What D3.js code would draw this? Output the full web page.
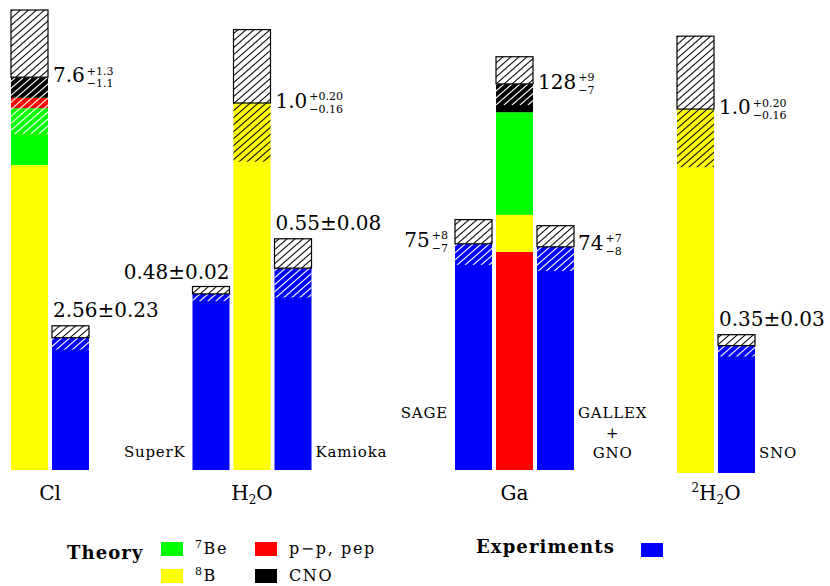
<!DOCTYPE html>
<html>
<head>
<meta charset="utf-8">
<script src="https://cdn.jsdelivr.net/npm/d3@7"></script>
<style>
  body { margin: 0; background: #fff; }
  svg text { font-family: "DejaVu Serif", serif; fill: #000; }
  .val { font-size: 20px; }
  .script { font-size: 11px; }
  .name { font-size: 15px; letter-spacing: 0.8px; }
  .glabel { font-size: 20px; }
  .ltitle { font-size: 18px; font-weight: bold; letter-spacing: 1.1px; }
  .litem { font-size: 16px; letter-spacing: 1.6px; }
</style>
</head>
<body>
<svg id="chart" width="830" height="586"></svg>
<script>
// Detector targets ("^" = superscript, "_" = subscript for the next character)
const groups = ["Cl", "H_2O", "Ga", "^2H_2O"];

// Standard solar model prediction, split by neutrino source
// (SNU for Cl and Ga, ratio to the model for the water detectors)
const theoryPP  = [0.2, 0,   72.3, 0];
const theoryB8  = [5.9, 1.0, 12.3, 1.0];
const theoryBe7 = [1.1, 0,   34.0, 0];
const theoryCNO = [0.4, 0,    9.4, 0];
const theoryTotal   = [7.6, 1.0, 128, 1.0];
const theoryErrUp   = [1.3, 0.20, 9, 0.20];
const theoryErrDown = [1.1, 0.16, 7, 0.16];
const theoryDigits    = [1, 1, 0, 1];
const theoryErrDigits = [1, 2, 0, 2];

// Order in which the sources are stacked, bottom to top
const stackOrder = [
  ["B8", "Be7", "PP", "CNO"],
  ["B8"],
  ["PP", "B8", "Be7", "CNO"],
  ["B8"]
];

// Measurements
const expGroup   = [0, 1, 1, 2, 2, 3];
const expName    = [[], ["SuperK"], ["Kamioka"], ["SAGE"], ["GALLEX", "+", "GNO"], ["SNO"]];
const expValue   = [2.56, 0.48, 0.55, 75, 74, 0.35];
const expErrUp   = [0.23, 0.02, 0.08, 8, 7, 0.03];
const expErrDown = [0.23, 0.02, 0.08, 7, 8, 0.03];
const expDigits  = [2, 2, 2, 0, 0, 2];
const expSide    = [1, -1, 1, -1, 1, 1];   // column relative to the model bar

// Legend entries
const componentKeys   = ["Be7", "B8", "PP", "CNO"];
const componentLabels = ["^7Be", "^8B", "p\u2212p, pep", "CNO"];
const componentColors = ["#00ff00", "#ffff00", "#ff0000", "#000000"];
const expLegendLabel  = "Experiments";
const expColor        = "#0000ff";

// ---------------------------------------------------------------
const svg = d3.select("#chart");

const comp = {
  PP: theoryPP, B8: theoryB8, Be7: theoryBe7, CNO: theoryCNO
};
const colorOf = d3.scaleOrdinal().domain(componentKeys).range(componentColors);

// layout
const barW = 37;
const groupCenter = d3.scaleOrdinal().domain(groups).range([50, 252, 514.5, 716]);
const slotX = d3.scaleLinear().domain([0, 1]).range([0, 41]);
const groupBase = [470, 470, 470, 473];
const groupTopValue = [8.9, 1.2534, 152.5, 1.272];
const yScale = groups.map((g, i) =>
  d3.scaleLinear().domain([0, groupTopValue[i]]).range([groupBase[i], 10]));

// column slots of each group (model bar at 0)
function slotsOf(gi) {
  const s = [0];
  expGroup.forEach((g, j) => { if (g === gi) s.push(expSide[j]); });
  return s;
}
function barLeft(gi, slot) {
  const s = slotsOf(gi);
  const mid = (d3.min(s) + d3.max(s)) / 2;
  return groupCenter(groups[gi]) + slotX(slot - mid) - barW / 2;
}

// hatch patterns
const defs = svg.append("defs");
function hatch(id, color) {
  const w = 8, h = 7;
  const p = defs.append("pattern").attr("id", id)
    .attr("patternUnits", "userSpaceOnUse").attr("width", w).attr("height", h);
  p.append("path")
    .attr("d", `M0,${h} L${w},0 M-1,1 L1,-1 M${w - 1},${h + 1} L${w + 1},${h - 1}`)
    .attr("stroke", color).attr("stroke-width", 1.1).attr("fill", "none");
}
hatch("hatchDark", "#111");
hatch("hatchLight", "#fff");

const plot = svg.append("g");

function band(x, y, lo, hi, fill) {
  return plot.append("rect")
    .attr("x", x).attr("width", barW)
    .attr("y", y(hi)).attr("height", y(lo) - y(hi))
    .attr("fill", fill);
}
function upperBox(x, y, lo, hi) {
  band(x, y, lo, hi, "#fff");
  band(x, y, lo, hi, "url(#hatchDark)")
    .attr("stroke", "#000").attr("stroke-width", 1.2);
}

// rich text helper: "^" superscript, "_" subscript
function richText(textSel, str, smallSize, up, down) {
  let i = 0;
  let shift = 0;
  while (i < str.length) {
    const c = str[i];
    if ((c === "^" || c === "_") && i + 1 < str.length) {
      const target = c === "^" ? -up : down;
      textSel.append("tspan").attr("font-size", smallSize)
        .attr("dy", target - shift).text(str[i + 1]);
      shift = target;
      i += 2;
    } else {
      let j = i;
      while (j < str.length && str[j] !== "^" && str[j] !== "_") j++;
      textSel.append("tspan").attr("dy", -shift).text(str.slice(i, j));
      shift = 0;
      i = j;
    }
  }
}

// value label with either "±" or stacked +/− errors
function valueLabel(x, y, anchor, main, sup, sub) {
  const g = plot.append("g");
  const t = g.append("text").attr("class", "val").attr("x", 0).attr("y", 0).text(main);
  const w = t.node().getComputedTextLength();
  let total = w;
  if (sup !== null) {
    const a = g.append("text").attr("class", "script").attr("x", w + 2).attr("y", -7.5).text(sup);
    const b = g.append("text").attr("class", "script").attr("x", w + 2).attr("y", 5).text(sub);
    total = w + 2 + Math.max(a.node().getComputedTextLength(), b.node().getComputedTextLength());
  }
  const dx = anchor === "end" ? x - total : x;
  g.attr("transform", `translate(${dx},${y})`);
}
function fmtLabel(v, eu, ed, d, de) {
  const f = d3.format(`.${d}f`), fe = d3.format(`.${de}f`);
  if (eu === ed) return [f(v) + "\u00b1" + fe(eu), null, null];
  return [f(v), "+" + fe(eu), "\u2212" + fe(ed)];
}

// model bars
groups.forEach((gname, gi) => {
  const y = yScale[gi];
  const x = barLeft(gi, 0);
  const total = theoryTotal[gi];
  const lo = total - theoryErrDown[gi];
  let acc = 0;
  const segs = stackOrder[gi].map(k => {
    const s = { key: k, a: acc, b: acc + comp[k][gi] };
    acc = s.b;
    return s;
  });
  segs.forEach(s => band(x, y, s.a, s.b, colorOf(s.key)));
  // lower uncertainty drawn over the stacked sources
  segs.forEach(s => {
    const a = Math.max(s.a, lo), b = Math.min(s.b, total);
    if (b > a) band(x, y, a, b, s.key === "B8" ? "url(#hatchDark)" : "url(#hatchLight)");
  });
  upperBox(x, y, total, total + theoryErrUp[gi]);

  const [m, su, sb] = fmtLabel(total, theoryErrUp[gi], theoryErrDown[gi],
                               theoryDigits[gi], theoryErrDigits[gi]);
  valueLabel(x + barW + 5, y(total) + 5, "start", m, su, sb);

  // group name
  const gl = plot.append("text").attr("class", "glabel")
    .attr("x", groupCenter(gname)).attr("y", 500).attr("text-anchor", "middle");
  richText(gl, gname, 12, 8, 4);
});

// measured bars
const expLabelPlace = ["above-start", "above-end", "above-start", "left", "right", "above-start"];
const nameBaseline  = [457, 457, 457, 418, 418, 458];
expValue.forEach((v, j) => {
  const gi = expGroup[j];
  const y = yScale[gi];
  const x = barLeft(gi, expSide[j]);
  band(x, y, 0, v, expColor);
  band(x, y, v - expErrDown[j], v, "url(#hatchLight)");
  upperBox(x, y, v, v + expErrUp[j]);

  const [m, su, sb] = fmtLabel(v, expErrUp[j], expErrDown[j], expDigits[j], expDigits[j]);
  const top = y(v + expErrUp[j]);
  const place = expLabelPlace[j];
  if (place === "above-start") valueLabel(x + 1, top - 9, "start", m, su, sb);
  else if (place === "above-end") valueLabel(x + barW, top - 7, "end", m, su, sb);
  else if (place === "left") valueLabel(x - 7, y(v) + 3, "end", m, su, sb);
  else valueLabel(x + barW + 4, y(v) + 3, "start", m, su, sb);

  // detector name
  const lines = expName[j];
  if (lines.length) {
    const t = plot.append("text").attr("class", "name").attr("text-anchor", "middle");
    lines.forEach((ln, k) => t.append("tspan").attr("x", 0).attr("y", k * 20).text(ln));
    const w = t.node().getBBox().width;
    const cx = expSide[j] < 0 ? x - 7 - w / 2 : x + barW + 4 + w / 2;
    t.attr("transform", `translate(${cx},${nameBaseline[j]})`);
  }
});

// legend
const leg = svg.append("g");
leg.append("text").attr("class", "ltitle").attr("x", 67).attr("y", 559).text("Theory");
componentKeys.forEach((k, i) => {
  const col = Math.floor(i / 2), row = i % 2;
  const sx = 161 + col * 94, sy = 542 + row * 27;
  leg.append("rect").attr("x", sx).attr("y", sy).attr("width", 22).attr("height", 14)
    .attr("fill", componentColors[i]);
  const t = leg.append("text").attr("class", "litem").attr("x", sx + 34).attr("y", sy + 12);
  richText(t, componentLabels[i], 11, 6, 3);
});
leg.append("text").attr("class", "ltitle").attr("x", 476).attr("y", 553).text(expLegendLabel);
leg.append("rect").attr("x", 641).attr("y", 543).attr("width", 22).attr("height", 14)
  .attr("fill", expColor);
</script>
</body>
</html>
